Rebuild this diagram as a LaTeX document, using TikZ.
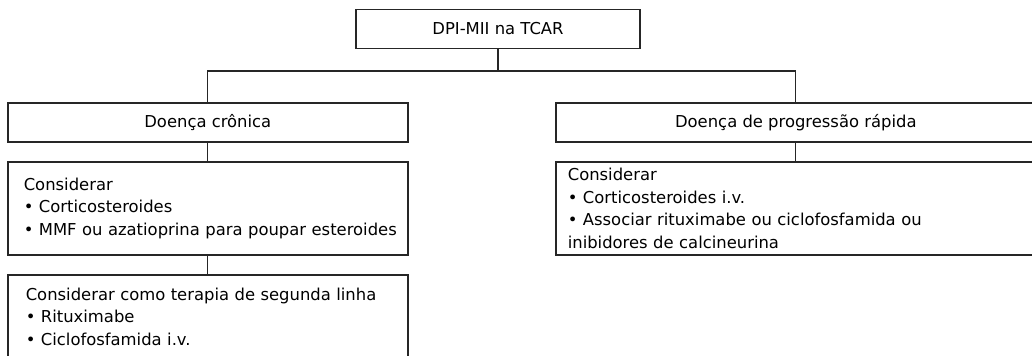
\documentclass[tikz,border=0pt]{standalone}
\usepackage{fontspec}
\setmainfont{DejaVu Sans}
\begin{document}
\begin{tikzpicture}[x=0.75pt,y=-0.75pt,
    box/.style={draw=black!85, line width=1.2pt, minimum height=29.5pt, inner sep=0pt,
                font=\fontsize{12.3}{16.9}\selectfont},
    listbox/.style={box, align=left, anchor=north west, inner xsep=12pt},
    link/.style={draw=black!85, line width=1pt}]
    \path[use as bounding box, clip] (0,0) rectangle (1032,356);
    % top of the tree
    \node[box, minimum width=213pt] (dpi) at (498,29) {DPI-MII na TCAR};
    \coordinate (bar) at (500,71);
    % chronic branch
    \node[box, anchor=north west, minimum width=300pt] (chronic) at (7,102) {Doença crônica};
    \node[listbox, text width=276pt, minimum height=69.75pt] (chronicfirst) at (7,161)
        {Considerar\\• Corticosteroides\\\mbox{• MMF ou azatioprina para poupar esteroides}};
    \node[listbox, inner xsep=13.5pt, text width=273pt, minimum height=63pt] (chronicsecond) at (7,274)
        {Considerar como terapia de segunda linha\\• Rituximabe\\• Ciclofosfamida i.v.};
    % rapid branch
    \node[box, anchor=north west, minimum width=360pt] (rapid) at (555,102) {Doença de progressão rápida};
    \node[listbox, inner xsep=9pt, text width=342pt, minimum height=69.75pt] (rapidfirst) at (555,161)
        {Considerar\\• Corticosteroides i.v.\\• Associar rituximabe ou ciclofosfamida ou\\inibidores de calcineurina};
    % connectors
    \draw[link] (dpi.south) -- (dpi.south |- bar);
    \draw[link] (chronic.north) |- (bar) -| (rapid.north);
    \draw[link] (chronic.south) -- (chronicfirst.north);
    \draw[link] (chronicfirst.south) -- (chronicsecond.north);
    \draw[link] (rapid.south) -- (rapidfirst.north);
\end{tikzpicture}
\end{document}
